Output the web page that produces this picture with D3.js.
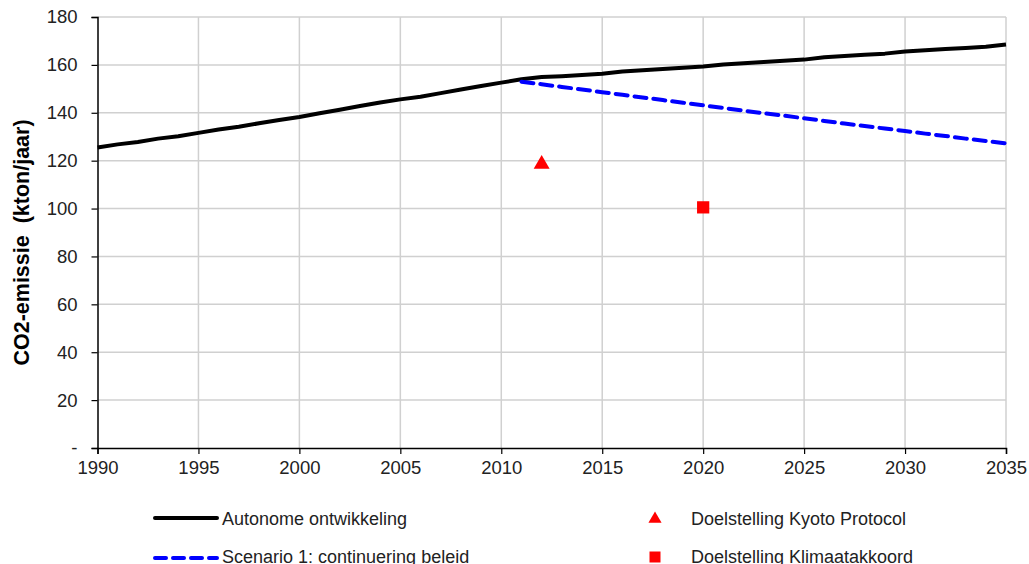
<!DOCTYPE html>
<html>
<head>
<meta charset="utf-8">
<script src="https://cdn.jsdelivr.net/npm/d3@7"></script>
<style>
  html, body { margin: 0; padding: 0; background: #fff; }
  svg { display: block; font-family: "Liberation Sans", Arial, sans-serif; }
</style>
</head>
<body>
<svg id="chart" width="1029" height="564"></svg>
<script>
// CO2 emissions (kton/year)
const years = d3.range(1990, 2036);
const autonomous = [
  125.5, 126.8, 127.8, 129.2, 130.2, 131.6, 133.0, 134.2, 135.6, 137.0,
  138.2, 139.8, 141.3, 142.8, 144.3, 145.6, 146.7, 148.2, 149.7, 151.2,
  152.6, 154.0, 154.9, 155.3, 155.8, 156.3, 157.2, 157.8, 158.3, 158.8,
  159.3, 160.2, 160.7, 161.2, 161.7, 162.2, 163.2, 163.7, 164.2, 164.7,
  165.6, 166.1, 166.6, 167.1, 167.6, 168.5
];
const scenarioYears = d3.range(2011, 2036);
const scenario1 = [
  153.0, 151.9, 150.8, 149.7, 148.6, 147.5, 146.4, 145.3, 144.2, 143.1,
  142.0, 140.9, 139.8, 138.8, 137.7, 136.6, 135.5, 134.5, 133.4, 132.4,
  131.3, 130.3, 129.2, 128.2, 127.2
];
const kyotoTarget = { year: 2012, value: 118.5 };
const climateTarget = { year: 2020, value: 100.5 };

const yTicks = [0, 20, 40, 60, 80, 100, 120, 140, 160, 180];
const xTicks = [1990, 1995, 2000, 2005, 2010, 2015, 2020, 2025, 2030, 2035];
const legendLabels = [
  "Autonome ontwikkeling",
  "Scenario 1: continuering beleid",
  "Doelstelling Kyoto Protocol",
  "Doelstelling Klimaatakkoord"
];

const svg = d3.select("#chart");
const plot = { left: 97.5, right: 1006, top: 17, bottom: 448 };

const x = d3.scaleLinear().domain([1990, 2035]).range([plot.left, plot.right]);
const y = d3.scaleLinear().domain([0, 180]).range([plot.bottom, plot.top]);

const grid = "#d0d0d0";
const font = "Liberation Sans, Arial, sans-serif";

// gridlines
svg.append("g").selectAll("line").data(yTicks.filter(d => d > 0)).join("line")
  .attr("x1", plot.left).attr("x2", plot.right)
  .attr("y1", d => y(d)).attr("y2", d => y(d))
  .attr("stroke", grid).attr("stroke-width", 1.5);
svg.append("g").selectAll("line").data(xTicks.filter(d => d > 1990)).join("line")
  .attr("x1", d => x(d)).attr("x2", d => x(d))
  .attr("y1", plot.top).attr("y2", plot.bottom)
  .attr("stroke", grid).attr("stroke-width", 1.5);

// axes
const yAxis = d3.axisLeft(y).tickValues(yTicks)
  .tickFormat(d => d === 0 ? "-" : d).tickSizeOuter(0).tickSize(6).tickPadding(14);
const gy = svg.append("g").attr("transform", `translate(${plot.left},0)`).call(yAxis);
gy.select(".domain").attr("stroke", "#000").attr("stroke-width", 1.5);
gy.selectAll(".tick line").attr("stroke", "#000").attr("stroke-width", 1.2);
gy.selectAll(".tick text").attr("font-size", 18.5).attr("fill", "#222")
  .attr("font-family", font);

const xAxis = d3.axisBottom(x).tickValues(xTicks).tickFormat(d3.format("d"))
  .tickSizeOuter(0).tickSize(6).tickPadding(7);
const gx = svg.append("g").attr("transform", `translate(0,${plot.bottom})`).call(xAxis);
gx.select(".domain").attr("stroke", "#000").attr("stroke-width", 1.5);
gx.selectAll(".tick line").attr("stroke", "#000").attr("stroke-width", 1.2);
gx.selectAll(".tick text").attr("font-size", 18.5).attr("fill", "#222")
  .attr("font-family", font);

// y-axis title
svg.append("text")
  .attr("transform", `translate(29,${(plot.top + plot.bottom) / 2 + 10}) rotate(-90)`)
  .attr("text-anchor", "middle")
  .attr("font-size", 21.5).attr("font-weight", "bold").attr("fill", "#000")
  .attr("xml:space", "preserve")
  .text("CO2-emissie  (kton/jaar)");

// lines
const line = d3.line().x(d => x(d[0])).y(d => y(d[1]));
svg.append("path")
  .datum(years.map((yr, i) => [yr, autonomous[i]]))
  .attr("d", line).attr("fill", "none")
  .attr("stroke", "#000").attr("stroke-width", 4).attr("stroke-linejoin", "round");
svg.append("path")
  .datum(scenarioYears.map((yr, i) => [yr, scenario1[i]]))
  .attr("d", line).attr("fill", "none")
  .attr("stroke", "#0000ff").attr("stroke-width", 4)
  .attr("stroke-dasharray", "12,7").attr("stroke-linecap", "round");

// targets
const tri = d3.symbol().type(d3.symbolTriangle).size(110);
const sq = d3.symbol().type(d3.symbolSquare).size(150);
svg.append("path").attr("d", tri)
  .attr("transform", `translate(${x(kyotoTarget.year)},${y(kyotoTarget.value)})`)
  .attr("fill", "#ff0000");
svg.append("path").attr("d", sq)
  .attr("transform", `translate(${x(climateTarget.year)},${y(climateTarget.value)})`)
  .attr("fill", "#ff0000");

// legend
const lg = svg.append("g").attr("font-size", 18).attr("fill", "#222").attr("font-family", font);
lg.append("line").attr("x1", 155).attr("x2", 217).attr("y1", 518).attr("y2", 518)
  .attr("stroke", "#000").attr("stroke-width", 4).attr("stroke-linecap", "round");
lg.append("text").attr("x", 222).attr("y", 525).text(legendLabels[0]);
lg.append("line").attr("x1", 155).attr("x2", 217).attr("y1", 558).attr("y2", 558)
  .attr("stroke", "#0000ff").attr("stroke-width", 4)
  .attr("stroke-dasharray", "11,7").attr("stroke-linecap", "round");
lg.append("text").attr("x", 222).attr("y", 563).text(legendLabels[1]);
lg.append("path").attr("d", d3.symbol().type(d3.symbolTriangle).size(75))
  .attr("transform", "translate(655,519)").attr("fill", "#ff0000");
lg.append("text").attr("x", 691).attr("y", 525).text(legendLabels[2]);
lg.append("path").attr("d", d3.symbol().type(d3.symbolSquare).size(121))
  .attr("transform", "translate(655,557)").attr("fill", "#ff0000");
lg.append("text").attr("x", 691).attr("y", 563).text(legendLabels[3]);
</script>
</body>
</html>
